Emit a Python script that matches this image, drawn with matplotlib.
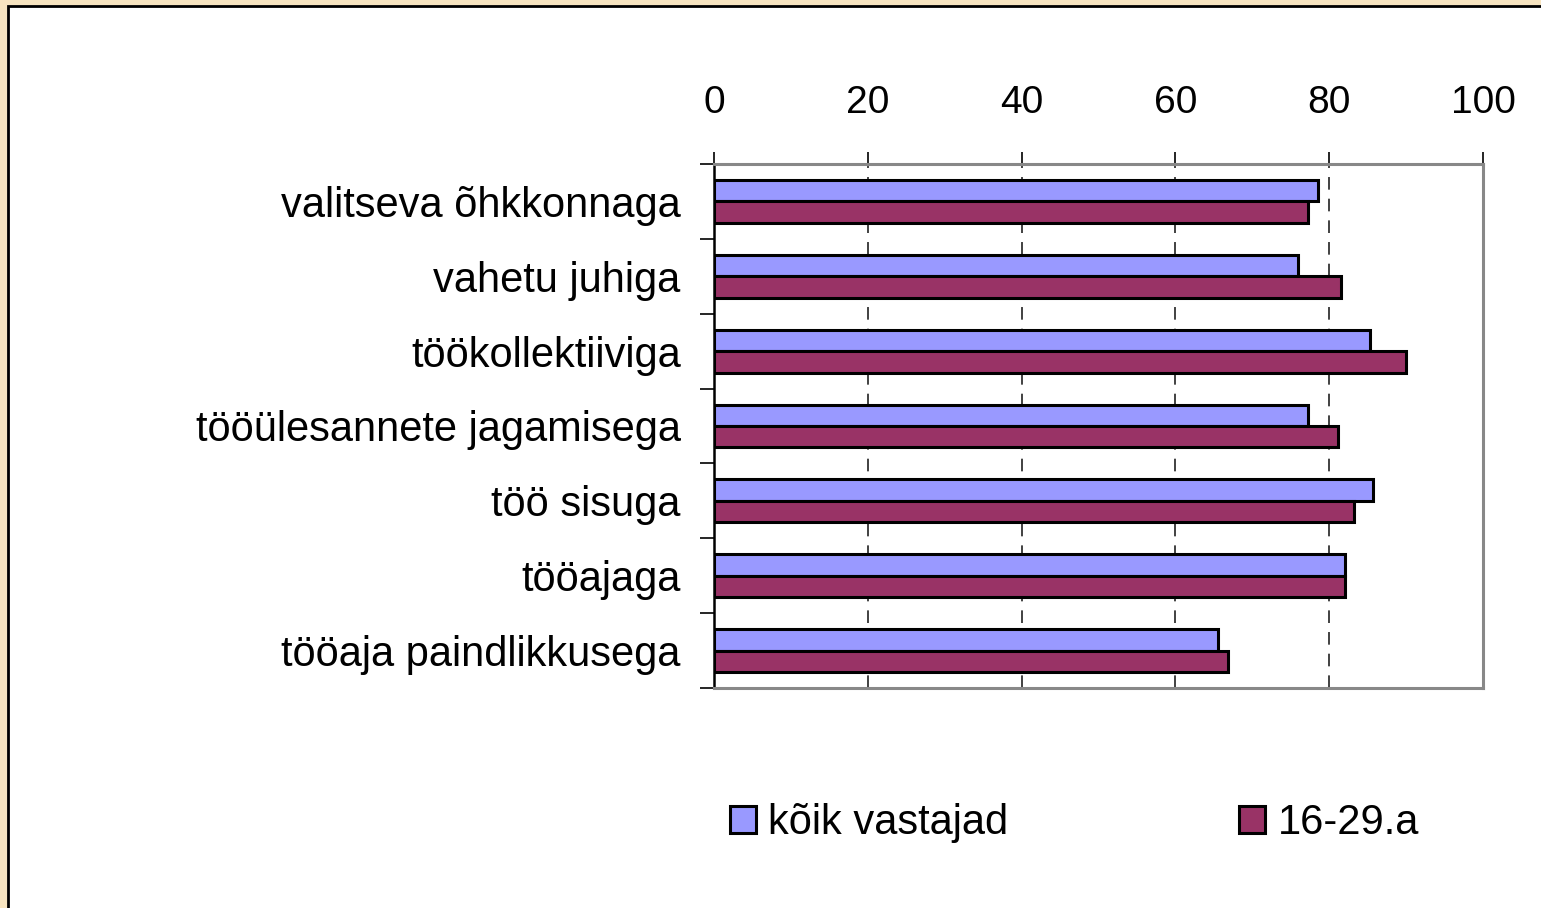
import matplotlib
matplotlib.use("Agg")
import matplotlib.pyplot as plt
from matplotlib.patches import Rectangle
import numpy as np

categories = ["valitseva õhkkonnaga", "vahetu juhiga", "töökollektiiviga",
              "tööülesannete jagamisega", "töö sisuga", "tööajaga",
              "tööaja paindlikkusega"]
series_names = ["kõik vastajad", "16-29.a"]
all_resp = [78.5, 76.0, 85.3, 77.3, 85.7, 82.0, 65.5]
young = [77.3, 81.5, 90.0, 81.1, 83.2, 82.0, 66.8]
xticks = [0, 20, 40, 60, 80, 100]

FS = 30
FS_TICK = 28
W, H = 1541, 908
fig = plt.figure(figsize=(W / 100, H / 100), dpi=100)
fig.patch.set_facecolor("#F7E4C0")
plt.rcParams['font.family'] = ['Liberation Sans', 'DejaVu Sans']

# white panel with black border
panel = Rectangle((8 / W, -0.05), 1.1, (H - 6) / H + 0.05, transform=fig.transFigure,
                  facecolor="white", edgecolor="black", linewidth=2, zorder=-10)
fig.patches.append(panel)

ax = fig.add_axes([714 / W, 1 - 688 / H, (1483 - 714) / W, (688 - 164) / H])
ax.set_facecolor("white")

y = np.arange(len(categories))
h = 0.287
ax.barh(y - h / 2, all_resp, height=h, color="#9999FF", edgecolor="black",
        linewidth=2.2, label=series_names[0], zorder=3)
ax.barh(y + h / 2, young, height=h, color="#993366", edgecolor="black",
        linewidth=2.2, label=series_names[1], zorder=3)

ax.set_xlim(0, 100)
ax.set_ylim(len(categories) - 0.5, -0.5)
ax.xaxis.tick_top()
ax.set_xticks(xticks)
ax.set_xticklabels([str(v) for v in xticks], fontsize=FS_TICK)
ax.tick_params(axis="x", length=9, width=1.2, pad=22, color="black")

ax.set_yticks(np.arange(len(categories) + 1) - 0.5, minor=False)
ax.set_yticklabels([])
ax.set_yticks(y, minor=True)
ax.set_yticklabels(categories, minor=True, fontsize=FS)
ax.tick_params(axis="y", which="major", length=10, width=1.2, color="black")
ax.tick_params(axis="y", which="minor", length=0, pad=24)

for v in xticks[1:-1]:
    ax.axvline(v, color="#333333", linestyle=(0, (7, 5)), linewidth=1.3, zorder=1)

for s in ["top", "right", "bottom"]:
    ax.spines[s].set_color("#888888")
    ax.spines[s].set_linewidth(2.2)
ax.spines["left"].set_color("black")
ax.spines["left"].set_linewidth(1.8)

leg = fig.legend(loc="upper left", bbox_to_anchor=(713 / W, 1 - 786 / H), ncol=2,
                 frameon=False, fontsize=FS, handlelength=0.62, handleheight=0.62,
                 handletextpad=0.3, columnspacing=5.55, borderaxespad=0)
for p in leg.get_patches():
    p.set_linewidth(2.2)

fig.savefig("out.png", dpi=100, facecolor=fig.get_facecolor())
